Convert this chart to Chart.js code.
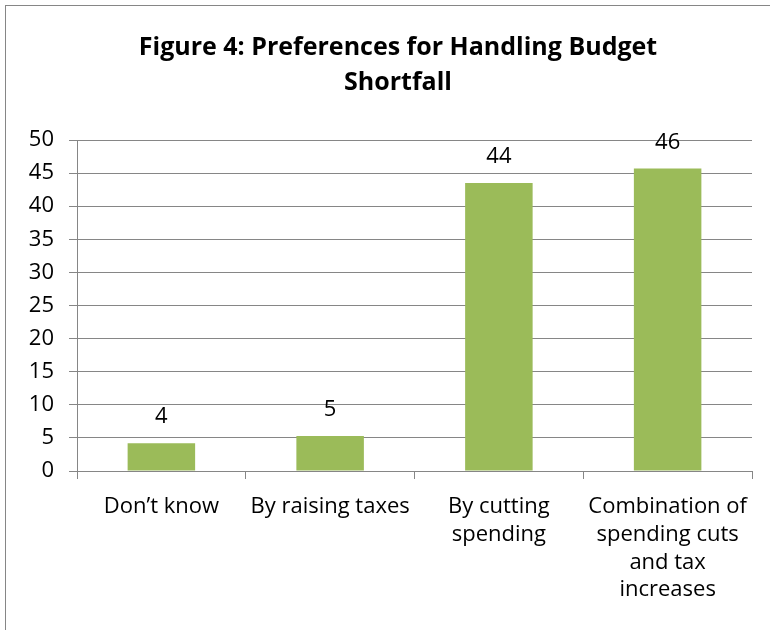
<!DOCTYPE html>
<html>
<head>
<meta charset="utf-8">
<script src="https://cdn.jsdelivr.net/npm/chart.js@4"></script>
<style>
  html, body { margin: 0; padding: 0; background: #fff; overflow: hidden; }
  #wrap { position: relative; width: 770px; height: 630px; }
  #frame { position: absolute; left: 5px; top: 5px; width: 820px; height: 700px; border: 1px solid #868686; box-sizing: border-box; }
  #chart { position: absolute; left: 0; top: 0; }
</style>
</head>
<body>
<div id="wrap">
  <div id="frame"></div>
  <canvas id="chart" width="770" height="630"></canvas>
</div>
<script>
// chart data
var titleLines = ['Figure 4: Preferences for Handling Budget', 'Shortfall'];
var categories = ['Don\u2019t know', 'By raising taxes', ['By cutting', 'spending'], ['Combination of', 'spending cuts', 'and tax', 'increases']];
var values = [4.2, 5.3, 43.5, 45.7];
var yTicks = [0, 5, 10, 15, 20, 25, 30, 35, 40, 45, 50];

var gridColor = '#868686';
var fontName = '"Open Sans", Lato, sans-serif';

// title sits centred on the whole chart frame, which is wider than the page
var frameTitle = {
  id: 'frameTitle',
  afterDraw: function (chart) {
    var ctx = chart.ctx;
    ctx.save();
    ctx.font = 'bold 25px ' + fontName;
    ctx.fillStyle = '#000';
    ctx.textAlign = 'center';
    ctx.textBaseline = 'middle';
    titleLines.forEach(function (line, i) {
      ctx.fillText(line, 398, 48 + i * 35);
    });
    ctx.restore();
  }
};

// draws rounded values above each bar
var barLabels = {
  id: 'barLabels',
  afterDatasetsDraw: function (chart) {
    var ctx = chart.ctx;
    var meta = chart.getDatasetMeta(0);
    ctx.save();
    ctx.font = '22px ' + fontName;
    ctx.fillStyle = '#000';
    ctx.textAlign = 'center';
    ctx.textBaseline = 'middle';
    meta.data.forEach(function (bar, i) {
      ctx.fillText(Math.round(values[i]), bar.x, bar.y - 26);
    });
    ctx.restore();
  }
};

new Chart(document.getElementById('chart'), {
  type: 'bar',
  data: {
    labels: categories,
    datasets: [{
      data: values,
      backgroundColor: '#9BBB59',
      barPercentage: 0.4,
      categoryPercentage: 1
    }]
  },
  options: {
    responsive: false,
    animation: false,
    layout: { padding: { top: 140, right: 18, left: 0, bottom: 0 } },
    plugins: {
      legend: { display: false },
      tooltip: { enabled: false },
      title: { display: false }
    },
    scales: {
      y: {
        min: 0,
        max: 50,
        afterBuildTicks: function (scale) {
          scale.ticks = yTicks.map(function (v) { return { value: v }; });
        },
        afterFit: function (scale) { scale.width = 77; },
        border: { color: gridColor, width: 1 },
        grid: { color: gridColor, lineWidth: 1, tickLength: 8 },
        ticks: { color: '#000', padding: 15, font: { family: fontName, size: 22 } }
      },
      x: {
        afterFit: function (scale) { scale.height = 159; },
        border: { color: gridColor, width: 1 },
        grid: { color: gridColor, drawOnChartArea: false, tickLength: 8 },
        ticks: { color: '#000', padding: 14, maxRotation: 0, autoSkip: false, font: { family: fontName, size: 22, lineHeight: 1.26 } }
      }
    }
  },
  plugins: [barLabels, frameTitle]
});
</script>
</body>
</html>
